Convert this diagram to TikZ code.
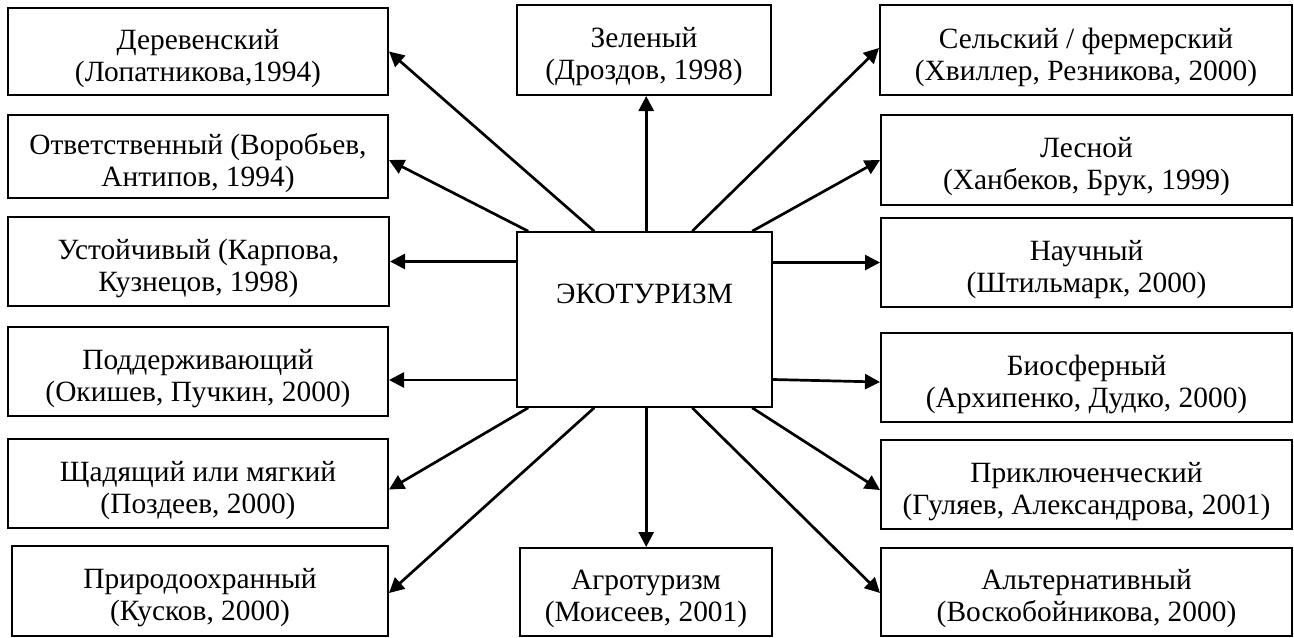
\documentclass[tikz,border=0pt]{standalone}
\usepackage{fontspec}
\setmainfont{Liberation Serif}
\usetikzlibrary{arrows.meta,calc}
\begin{document}
\begin{tikzpicture}[x=0.5pt,y=-0.5pt,
  box/.style={draw, line width=1pt, inner sep=0pt},
  lab/.style={inner sep=0pt, align=center, font=\fontsize{14.7}{16}\selectfont, yshift=-3.5pt},
  arr/.style={line width=1.35pt, -{Triangle[length=7.5pt,width=7.5pt]}}]
\useasboundingbox (0,0) rectangle (1294,637);
% left column
\node[box, minimum width=190pt, minimum height=43.5pt, label={[lab]center:{Деревенский\\(Лопатникова,1994)}}] (L1) at (198,51.5) {};
\node[box, minimum width=190pt, minimum height=41.5pt, label={[lab]center:{Ответственный (Воробьев,\\Антипов, 1994)}}] (L2) at (198,156.5) {};
\node[box, minimum width=190.5pt, minimum height=44.5pt, label={[lab]center:{Устойчивый (Карпова,\\Кузнецов, 1998)}}] (L3) at (198.5,261.5) {};
\node[box, minimum width=190pt, minimum height=44.5pt, label={[lab]center:{Поддерживающий\\(Окишев, Пучкин, 2000)}}] (L4) at (198,371.5) {};
\node[box, minimum width=190pt, minimum height=44.5pt, label={[lab]center:{Щадящий или мягкий\\(Поздеев, 2000)}}] (L5) at (198,483.5) {};
\node[box, minimum width=188pt, minimum height=45pt, label={[lab]center:{Природоохранный\\(Кусков, 2000)}}] (L6) at (200,591) {};
% centre column
\node[box, minimum width=127pt, minimum height=45pt, label={[lab]center:{Зеленый\\(Дроздов, 1998)}}] (T) at (644,50) {};
\node[box, line width=0.8pt, minimum width=127.5pt, text height=35.5pt, text depth=52pt, font=\fontsize{14.7}{16}\selectfont] (C) at (644.5,319.5) {ЭКОТУРИЗМ};
\node[box, minimum width=126pt, minimum height=44pt, label={[lab]center:{Агротуризм\\(Моисеев, 2001)}}] (B) at (646,592) {};
% right column
\node[box, minimum width=206pt, minimum height=45pt, label={[lab]center:{Сельский / фермерский\\(Хвиллер, Резникова, 2000)}}] (R1) at (1086,50) {};
\node[box, minimum width=205.5pt, minimum height=45pt, label={[lab]center:{Лесной\\(Ханбеков, Брук, 1999)}}] (R2) at (1086.5,160) {};
\node[box, minimum width=205.5pt, minimum height=44.5pt, label={[lab]center:{Научный\\(Штильмарк, 2000)}}] (R3) at (1086.5,262.5) {};
\node[box, minimum width=205.5pt, minimum height=44.5pt, label={[lab]center:{Биосферный\\(Архипенко, Дудко, 2000)}}] (R4) at (1086.5,377.5) {};
\node[box, minimum width=205.5pt, minimum height=44.5pt, label={[lab]center:{Приключенческий\\(Гуляев, Александрова, 2001)}}] (R5) at (1086.5,484.5) {};
\node[box, minimum width=205.5pt, minimum height=44pt, label={[lab]center:{Альтернативный\\(Воскобойникова, 2000)}}] (R6) at (1086.5,592) {};
% start points on the centre box
\coordinate (t1) at ($(C.north west)+(12,0)$);
\coordinate (t2) at ($(C.north west)+(78,0)$);
\coordinate (t3) at ($(C.north west)+(130,0)$);
\coordinate (t4) at ($(C.north west)+(176,0)$);
\coordinate (t5) at ($(C.north west)+(236,0)$);
\coordinate (b1) at ($(C.south west)+(12,0)$);
\coordinate (b2) at ($(C.south west)+(78,0)$);
\coordinate (b3) at ($(C.south west)+(130,0)$);
\coordinate (b4) at ($(C.south west)+(176,0)$);
\coordinate (b5) at ($(C.south west)+(236,0)$);
% arrows
\draw[arr] (t2) -- (L1.east);
\draw[arr] (t1) -- ([yshift=-1.75pt]L2.east);
\draw[arr] (L3.east -| C.west) -- (L3.east);
\draw[arr] ([yshift=-4.25pt]L4.east -| C.west) -- ([yshift=-4.25pt]L4.east);
\draw[arr] (b1) -- ([yshift=-3pt]L5.east);
\draw[arr] (b2) -- ([yshift=-1pt]L6.east);
\draw[arr] (t3) -- (t3 |- T.south);
\draw[arr] (b3) -- (b3 |- B.north);
\draw[arr] (t4) -- ([yshift=1pt]R1.west);
\draw[arr] (t5) -- (R2.west);
\draw[arr] (R3.west -| C.east) -- (R3.west);
\draw[arr] ([yshift=-1pt]R4.west -| C.east) -- ([yshift=-2.25pt]R4.west);
\draw[arr] (b5) -- ([yshift=-2.75pt]R5.west);
\draw[arr] (b4) -- ([yshift=-0.5pt]R6.west);
\end{tikzpicture}
\end{document}
